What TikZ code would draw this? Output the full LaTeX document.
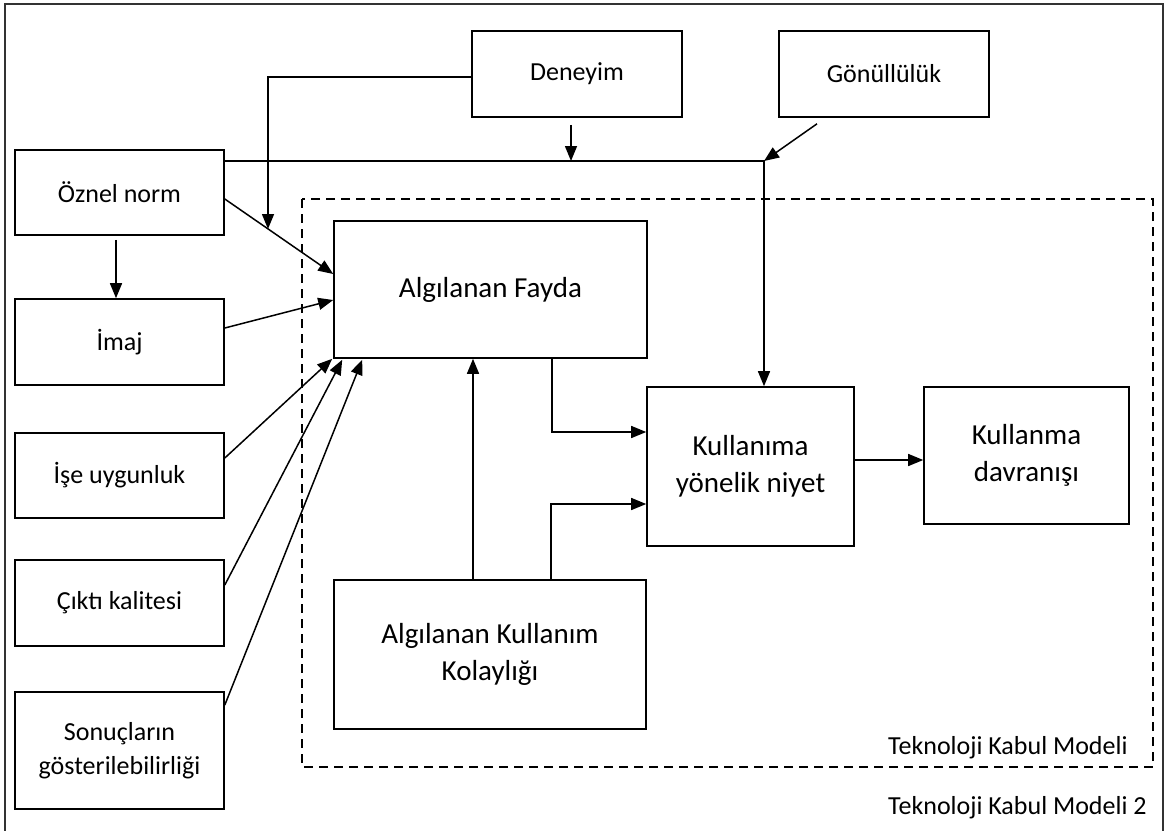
\documentclass[tikz,border=0pt]{standalone}
\usepackage{fontspec}
\setmainfont{Carlito}
\usetikzlibrary{arrows.meta,calc}
\begin{document}
\begin{tikzpicture}[x=1pt,y=-1pt,
  box/.style={draw,line width=1.6pt,inner sep=0pt,align=center,font=\fontsize{26}{34}\selectfont},
  bigbox/.style={box,font=\fontsize{29}{37}\selectfont},
  arr/.style={line width=1.5pt,-{Triangle[length=15pt,width=12pt]}},
  frame/.style={line width=1.2pt,draw=black!80},
  tam/.style={line width=1.4pt,dash pattern=on 9pt off 6pt},
  lbl/.style={font=\fontsize{26}{34}\selectfont,inner sep=0pt,anchor=base west}]
\useasboundingbox (0,0) rectangle (1166,830);
\draw[frame] (5,4) rectangle (1163,836);
\draw[tam] (302,199) rectangle (1153,767);

\node[box,minimum width=210pt,minimum height=86pt] (den) at (577,74) {Deneyim};
\node[box,minimum width=210pt,minimum height=86pt] (gon) at (884,74) {Gönüllülük};
\node[box,minimum width=209pt,minimum height=85pt] (oz) at (119.5,192.5) {Öznel norm};
\node[box,minimum width=209pt,minimum height=86pt] (imaj) at (119.5,342) {İmaj};
\node[box,minimum width=209pt,minimum height=85pt] (ise) at (119.5,475.5) {İşe uygunluk};
\node[box,minimum width=209pt,minimum height=86pt] (cikti) at (119.5,603) {Çıktı kalitesi};
\node[box,minimum width=209pt,minimum height=117pt] (son) at (119.5,750.5) {Sonuçların\\gösterilebilirliği};
\node[bigbox,minimum width=313pt,minimum height=137pt] (af) at (490.5,289.5) {Algılanan Fayda};
\node[bigbox,minimum width=312pt,minimum height=149pt] (akk) at (490,654.5) {Algılanan Kullanım\\Kolaylığı};
\node[bigbox,minimum width=207pt,minimum height=159pt] (niyet) at (750.5,466.5) {Kullanıma\\yönelik niyet};
\node[bigbox,minimum width=205pt,minimum height=137pt] (kd) at (1026.5,455.5) {Kullanma\\davranışı};

\node[lbl] (tkm) at (888,754) {Teknoloji Kabul Modeli};
\node[lbl] (tkm2) at (888,814) {Teknoloji Kabul Modeli 2};

\coordinate (corner) at (764,161);
\coordinate (dtip) at (268,229);

\draw[arr] ([yshift=-3pt]den.west) -| (dtip);
\draw[arr] ([xshift=-6pt,yshift=-7pt]den.south) -- ([xshift=-6pt]den.south |- corner);
\draw[arr] (oz.east |- corner) -- (corner) -- (corner |- niyet.north);
\draw[arr] ([xshift=-67pt,yshift=-6pt]gon.south) -- (corner);
\draw[arr] ([yshift=-6.5pt]oz.east) -- ([yshift=15.5pt]af.west);
\draw[arr] ([xshift=-3.5pt,yshift=-4pt]oz.south) -- ([xshift=-3.5pt]imaj.north);
\draw[arr] ([yshift=14pt]imaj.east) -- ([yshift=-10.5pt]af.west);
\draw[arr] ([yshift=17.5pt]ise.east) -- ([xshift=-1pt]af.south west);
\draw[arr] ([yshift=18pt]cikti.east) -- ([xshift=9pt,yshift=-1pt]af.south west);
\draw[arr] ([yshift=45.5pt]son.east) -- ([xshift=29pt,yshift=-1pt]af.south west);
\draw[arr] ([xshift=-17pt]akk.north) -- ([xshift=-17pt]akk.north |- af.south);
\draw[arr] ([xshift=61.5pt]af.south) |- ([yshift=34.5pt]niyet.west);
\draw[arr] ([xshift=61pt]akk.north) |- ([yshift=-37.5pt]niyet.west);
\draw[arr] ([yshift=6.5pt]niyet.east) -- ([yshift=6.5pt]niyet.east -| kd.west);
\end{tikzpicture}
\end{document}
